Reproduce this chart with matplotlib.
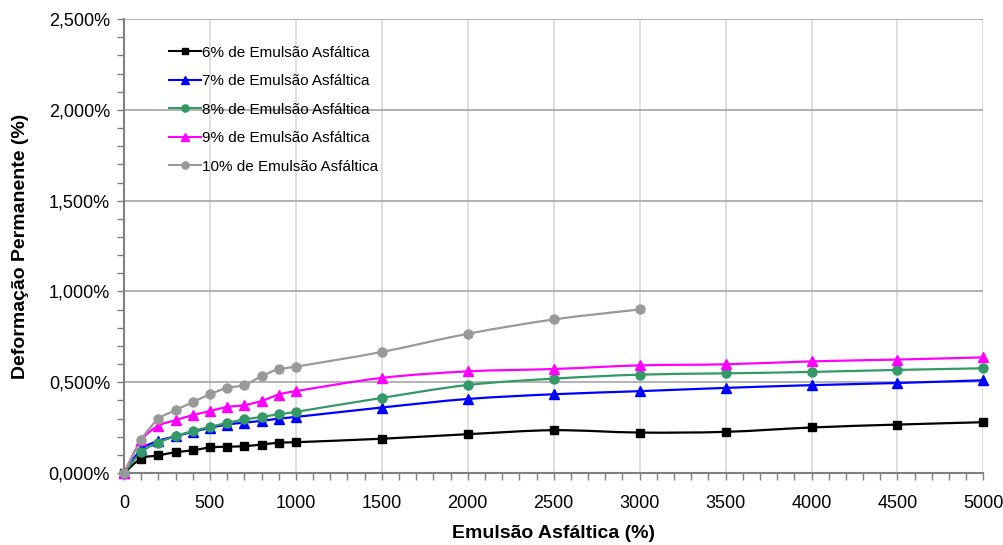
import numpy as np
import matplotlib
matplotlib.use("Agg")
import matplotlib.pyplot as plt
from matplotlib.path import Path
from matplotlib.patches import PathPatch
from matplotlib.ticker import MultipleLocator, FuncFormatter
from matplotlib.lines import Line2D

plt.rcParams['font.family'] = ['Liberation Sans', 'DejaVu Sans']

x_full = [0, 100, 200, 300, 400, 500, 600, 700, 800, 900, 1000,
          1500, 2000, 2500, 3000, 3500, 4000, 4500, 5000]
x_10 = x_full[:15]

# Permanent deformation (%)
def_6 = [0.0, 0.080, 0.097, 0.115, 0.125, 0.141, 0.145, 0.148, 0.157, 0.167, 0.170,
         0.189, 0.214, 0.236, 0.223, 0.227, 0.251, 0.267, 0.280]
def_7 = [0.0, 0.130, 0.177, 0.203, 0.227, 0.249, 0.267, 0.278, 0.287, 0.300, 0.309,
         0.361, 0.408, 0.434, 0.451, 0.469, 0.484, 0.496, 0.511]
def_8 = [0.0, 0.115, 0.168, 0.203, 0.231, 0.254, 0.276, 0.295, 0.309, 0.324, 0.337,
         0.414, 0.485, 0.520, 0.542, 0.549, 0.557, 0.568, 0.577]
def_9 = [0.0, 0.180, 0.260, 0.291, 0.319, 0.341, 0.364, 0.374, 0.397, 0.432, 0.451,
         0.524, 0.560, 0.573, 0.593, 0.599, 0.615, 0.625, 0.637]
def_10 = [0.0, 0.183, 0.297, 0.346, 0.390, 0.434, 0.469, 0.485, 0.533, 0.573, 0.586,
          0.667, 0.767, 0.846, 0.901]

labels = ["6% de Emulsão Asfáltica", "7% de Emulsão Asfáltica",
          "8% de Emulsão Asfáltica", "9% de Emulsão Asfáltica",
          "10% de Emulsão Asfáltica"]

series = [
    (x_full, def_6, "#000000", "s", 6.0),
    (x_full, def_7, "#0000FF", "^", 7.0),
    (x_full, def_8, "#339966", "o", 6.5),
    (x_full, def_9, "#FF00FF", "^", 7.0),
    (x_10, def_10, "#999999", "o", 6.5),
]


def smooth_path(xs, ys):
    """Cubic Bezier path through the points (Catmull-Rom style smoothing)."""
    pts = np.column_stack([xs, ys]).astype(float)
    n = len(pts)
    verts = [pts[0]]
    codes = [Path.MOVETO]
    for i in range(n - 1):
        p0 = pts[i - 1] if i > 0 else pts[i]
        p1 = pts[i]
        p2 = pts[i + 1]
        p3 = pts[i + 2] if i + 2 < n else pts[i + 1]
        c1 = p1 + (p2 - p0) / 6.0
        c2 = p2 - (p3 - p1) / 6.0
        verts += [c1, c2, p2]
        codes += [Path.CURVE4] * 3
    return Path(verts, codes)


fig = plt.figure(figsize=(10.04, 5.45), dpi=100)
ax = fig.add_axes([0.1235, 0.132, 0.856, 0.833])

handles = []
for (xs, ys, color, marker, ms), lab in zip(series, labels):
    patch = PathPatch(smooth_path(xs, ys), facecolor='none', edgecolor=color,
                      lw=1.6, zorder=3, clip_on=False)
    ax.add_patch(patch)
    ax.plot(xs, ys, linestyle='none', marker=marker, color=color,
            markersize=ms, zorder=4, clip_on=False)
    handles.append(Line2D([0], [0], color=color, lw=1.5, marker=marker,
                          markersize=ms * 0.8))

ax.set_xlim(0, 5000)
ax.set_ylim(0, 2.5)

ax.xaxis.set_major_locator(MultipleLocator(500))
ax.xaxis.set_minor_locator(MultipleLocator(100))
ax.yaxis.set_major_locator(MultipleLocator(0.5))
ax.yaxis.set_minor_locator(MultipleLocator(0.1))
ax.yaxis.set_major_formatter(FuncFormatter(lambda v, p: f"{v:.3f}%".replace('.', ',')))

ax.grid(True, axis='x', which='major', color='#d9d9d9', lw=1.2, zorder=0)
ax.grid(True, axis='y', which='major', color='#a6a6a6', lw=1.2, zorder=0)

for side in ['top', 'right']:
    ax.spines[side].set_visible(False)
for side in ['left', 'bottom']:
    ax.spines[side].set_color('#808080')
    ax.spines[side].set_linewidth(1.5)

ax.tick_params(axis='both', which='both', direction='out', colors='#808080',
               labelcolor='black', labelsize=13)
ax.tick_params(axis='both', which='major', length=5, width=1)
ax.tick_params(axis='both', which='minor', length=5, width=1)
ax.tick_params(axis='x', pad=11)
ax.tick_params(axis='y', pad=5)

ax.set_xlabel("Emulsão Asfáltica (%)", fontsize=14, fontweight='bold', labelpad=9)
ax.set_ylabel("Deformação Permanente (%)", fontsize=14, fontweight='bold', labelpad=14)

leg = ax.legend(handles, labels, loc='upper left', bbox_to_anchor=(0.045, 0.955),
                frameon=False, fontsize=11, handlelength=2.1, handletextpad=0.05,
                labelspacing=0.95, borderaxespad=0.0)

fig.savefig("out.png", dpi=100)
